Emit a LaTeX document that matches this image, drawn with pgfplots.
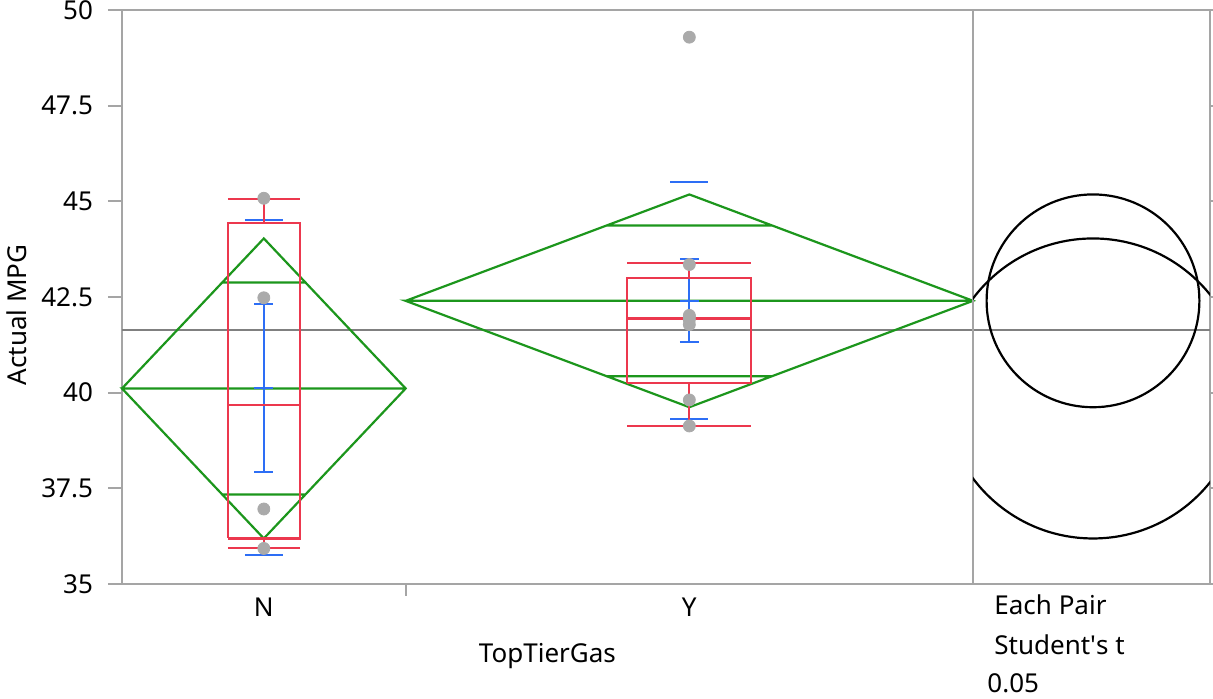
\documentclass[border=0pt]{standalone}
\usepackage{fontspec}
\setmainfont{Noto Sans}
\usepackage{pgfplots}
\pgfplotsset{compat=1.18}
\definecolor{jred}{RGB}{236,56,78}
\definecolor{jgreen}{RGB}{28,150,28}
\definecolor{jblue}{RGB}{45,110,245}
\definecolor{jdot}{RGB}{170,170,170}
\definecolor{axgray}{RGB}{165,165,165}
\definecolor{meangray}{RGB}{128,128,128}
\begin{document}
\begin{tikzpicture}[font=\fontsize{13}{15}\selectfont]
\useasboundingbox (-61pt,-57pt) rectangle (545.5pt,292pt);
\begin{axis}[
  at={(0,0)}, anchor=south west,
  scale only axis, width=544pt, height=287pt,
  xmin=0, xmax=3.8355, ymin=35, ymax=50,
  clip=false,
  unbounded coords=jump,
  axis line style={axgray, line width=1pt},
  /pgf/number format/assume math mode=true,
  ytick={35,37.5,40,42.5,45,47.5,50},
  yticklabels={35,37.5,40,42.5,45,47.5,50},
  tick align=outside,
  major tick length=7pt,
  ytick style={axgray, line width=1pt},
  xtick={0.5,2}, xticklabels={N,Y},
  xtick style={draw=none},
  yticklabel style={anchor=east, xshift=-4pt},
  xticklabel style={anchor=base, yshift=-9pt},
  xlabel={TopTierGas},
  xlabel style={at={(axis description cs:0.391,-0.1359)}, anchor=base},
  ylabel={Actual MPG},
  ylabel style={at={(axis description cs:-0.0965,0.469)}, anchor=center, rotate=0},
]
% grand mean
\addplot[meangray, line width=1.1pt] coordinates {(0,41.63) (3.8355,41.63)};
% points
\addplot[only marks, mark=*, mark size=3pt, jdot, mark options={draw=none, fill=jdot}] coordinates {
 (0.5,45.08) (0.5,42.48) (0.5,36.96) (0.5,35.93)
 (2,49.29) (2,43.35) (2,42.02) (2,41.98) (2,41.90) (2,41.78) (2,39.81) (2,39.13)};
% green means diamonds
\addplot[jgreen, line width=1.1pt, line join=miter] coordinates {
 (0,40.11) (0.5,44.03) (1,40.11) (0.5,36.19) (0,40.11) (1,40.11) (nan,nan)
 (0.3533,42.88) (0.6467,42.88) (nan,nan)
 (0.3533,37.34) (0.6467,37.34)};
\addplot[jgreen, line width=1.1pt, line join=miter] coordinates {
 (1,42.40) (2,45.18) (3,42.40) (2,39.62) (1,42.40) (3,42.40) (nan,nan)
 (1.707,44.37) (2.293,44.37) (nan,nan)
 (1.707,40.43) (2.293,40.43)};
% blue mean error bars
\addplot[jblue, line width=1.1pt] coordinates {
 (0.5,37.93) (0.5,42.32) (nan,nan)
 (0.4665,42.32) (0.5335,42.32) (nan,nan)
 (0.4665,40.13) (0.5335,40.13) (nan,nan)
 (0.4665,37.93) (0.5335,37.93) (nan,nan)
 (0.433,44.51) (0.567,44.51) (nan,nan)
 (0.433,35.76) (0.567,35.76)};
\addplot[jblue, line width=1.1pt] coordinates {
 (2,41.32) (2,43.50) (nan,nan)
 (1.9665,43.50) (2.0335,43.50) (nan,nan)
 (1.9665,42.39) (2.0335,42.39) (nan,nan)
 (1.9665,41.32) (2.0335,41.32) (nan,nan)
 (1.933,45.50) (2.067,45.50) (nan,nan)
 (1.933,39.32) (2.067,39.32)};
% red box plots
\addplot[jred, line width=1.1pt] coordinates {
 (0.373,36.19) (0.627,36.19) (0.627,44.44) (0.373,44.44) (0.373,36.19) (nan,nan)
 (0.373,39.68) (0.627,39.68) (nan,nan)
 (0.5,44.44) (0.5,45.06) (nan,nan)
 (0.5,36.19) (0.5,35.95) (nan,nan)
 (0.373,45.06) (0.627,45.06) (nan,nan)
 (0.373,35.95) (0.627,35.95)};
\addplot[jred, line width=1.1pt] coordinates {
 (1.7814,40.26) (2.2186,40.26) (2.2186,43.00) (1.7814,43.00) (1.7814,40.26) (nan,nan)
 (1.7814,41.94) (2.2186,41.94) (nan,nan)
 (2,43.00) (2,43.38) (nan,nan)
 (2,40.26) (2,39.13) (nan,nan)
 (1.7814,43.38) (2.2186,43.38) (nan,nan)
 (1.7814,39.13) (2.2186,39.13)};
% panel divider and group tick
\draw[axgray, line width=1pt] (axis cs:3,35) -- (axis cs:3,50);
\draw[axgray, line width=1pt] (axis cs:1,35) -- (axis cs:1,34.69);
% comparison circles
\begin{scope}
\clip (axis cs:3,35) rectangle (axis cs:3.8355,50);
\draw[black, line width=1.1pt] (axis cs:3.423,42.40) circle [radius=53.2pt];
\draw[black, line width=1.1pt] (axis cs:3.423,40.11) circle [radius=75.0pt];
\end{scope}
% labels
\node[anchor=base west, inner sep=0pt] at (axis cs:3.074,34.216) {Each Pair};
\node[anchor=base west, inner sep=0pt] at (axis cs:3.074,33.145) {Student\textquotesingle s t};
\node[anchor=base west, inner sep=0pt] at (axis cs:3.0495,32.152) {0.05};
\end{axis}
\end{tikzpicture}
\end{document}
